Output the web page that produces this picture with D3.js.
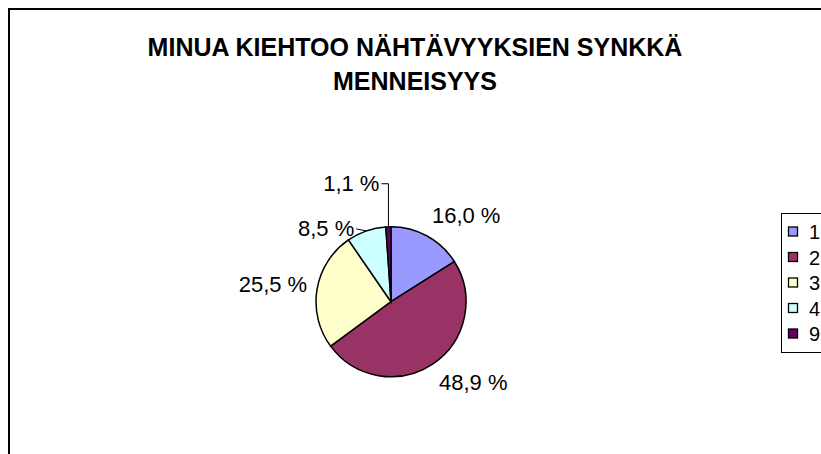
<!DOCTYPE html>
<html>
<head>
<meta charset="utf-8">
<script src="https://cdn.jsdelivr.net/npm/d3@7"></script>
<style>
  body { margin: 0; background: #fff; }
  svg { display: block; font-family: "Liberation Sans", Arial, sans-serif; }
</style>
</head>
<body>
<div class="chart"></div>
<script>
const categories = ["1", "2", "3", "4", "9"];
const values = [16.0, 48.9, 25.5, 8.5, 1.1];
const colors = ["#9999FF", "#993366", "#FFFFCC", "#CCFFFF", "#660066"];
const titleLines = ["MINUA KIEHTOO NÄHTÄVYYKSIEN SYNKKÄ", "MENNEISYYS"];

function main() {
    const width = 821, height = 454;
    const cx = 391, cy = 301.7, r = 75;

    const svg = d3.select(".chart")
                  .append("svg")
                  .attr("width", width)
                  .attr("height", height);

    // chart area frame (runs off the right and bottom edge)
    svg.append("rect")
       .attr("x", 9).attr("y", 9)
       .attr("width", 900).attr("height", 500)
       .attr("fill", "#fff")
       .attr("stroke", "#000")
       .attr("stroke-width", 2);

    svg.selectAll(".title")
       .data(titleLines)
       .enter()
       .append("text")
       .attr("class", "title")
       .attr("x", 415)
       .attr("y", (d, i) => 56 + i * 34)
       .attr("text-anchor", "middle")
       .attr("font-size", 25)
       .attr("font-weight", "bold")
       .text(d => d);

    const data = categories.map((c, i) => ({ cat: c, value: values[i], color: colors[i] }));

    const pie = d3.pie().sort(null).value(d => d.value);
    const arcs = pie(data);
    const arc = d3.arc().innerRadius(0).outerRadius(r);

    const g = svg.append("g").attr("transform", `translate(${cx},${cy})`);

    g.selectAll("path")
     .data(arcs)
     .enter()
     .append("path")
     .attr("d", arc)
     .attr("fill", d => d.data.color)
     .attr("stroke", "#000")
     .attr("stroke-width", 1.5);

    // labels: large slices sit just outside the rim, small slices get a leader
    const fmt = v => d3.format(".1f")(v).replace(".", ",") + " %";
    const mid = d => (d.startAngle + d.endAngle) / 2;
    const leaderNudge = { "4": [-10, -2], "9": [-7, -43] };

    arcs.forEach(d => {
        const a = mid(d);
        const s = Math.sin(a), c = Math.cos(a);
        const nudge = leaderNudge[d.data.cat];
        if (nudge) {
            const px = r * s, py = -r * c;
            const ex = px + nudge[0], ey = py + nudge[1];
            let pts;
            if (Math.abs(nudge[1]) > 20) {
                pts = [[px, py], [px, ey], [ex, ey]];
            } else {
                pts = [[px, py], [ex, ey]];
            }
            g.append("path")
             .attr("d", d3.line()(pts))
             .attr("fill", "none")
             .attr("stroke", "#000")
             .attr("stroke-width", 1);
            g.append("text")
             .attr("x", ex - 2)
             .attr("y", ey + 7)
             .attr("text-anchor", "end")
             .attr("font-size", 22)
             .text(fmt(d.data.value));
        } else {
            const ro = 85;
            g.append("text")
             .attr("x", ro * s)
             .attr("y", -ro * c + 7 - 13 * c)
             .attr("text-anchor", s >= 0 ? "start" : "end")
             .attr("font-size", 22)
             .text(fmt(d.data.value));
        }
    });

    // legend
    const legend = svg.append("g").attr("transform", "translate(781,213)");
    legend.append("rect")
          .attr("x", 0.5).attr("y", 0.5)
          .attr("width", 80).attr("height", 139)
          .attr("fill", "#fff")
          .attr("stroke", "#000")
          .attr("stroke-width", 1);

    const items = legend.selectAll(".item")
                        .data(data)
                        .enter()
                        .append("g")
                        .attr("class", "item")
                        .attr("transform", (d, i) => `translate(0,${19 + i * 25.5})`);

    items.append("rect")
         .attr("x", 7.5).attr("y", -5)
         .attr("width", 9).attr("height", 9)
         .attr("fill", d => d.color)
         .attr("stroke", "#000")
         .attr("stroke-width", 1.3);

    items.append("text")
         .attr("x", 28)
         .attr("y", 7)
         .attr("font-size", 20)
         .text(d => d.cat);
}

main();
</script>
</body>
</html>
